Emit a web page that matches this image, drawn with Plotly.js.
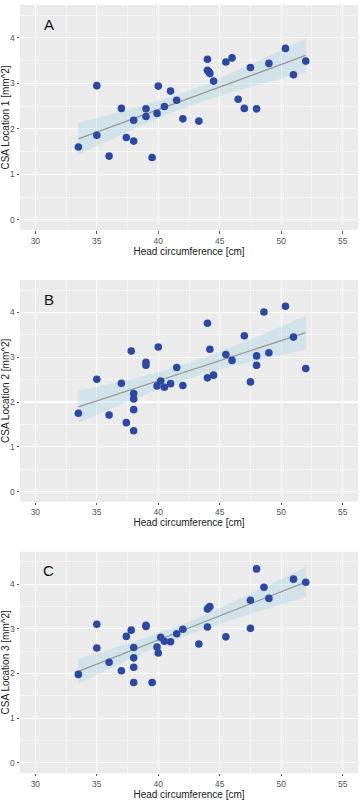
<!DOCTYPE html>
<html>
<head>
<meta charset="utf-8">
<script src="https://cdn.plot.ly/plotly-3.0.1.min.js"></script>
<style>
  html, body { margin: 0; padding: 0; background: #ffffff; }
  #chart { width: 364px; height: 800px; }
</style>
</head>
<body>
<div id="chart"></div>
<script>
// Head circumference [cm] and cross-sectional area at three locations [mm^2]
const headA = [33.5, 35, 35, 36, 37, 37.4, 38, 38, 39, 39, 39.5, 39.9, 40, 40.5, 41, 41.5, 42, 43.3,
               44, 44, 44.1, 44.2, 44.5, 45.5, 46, 46.5, 47, 47.5, 48, 49, 50.35, 51, 52];
const csaA  = [1.60, 2.95, 1.86, 1.40, 2.45, 1.81, 2.19, 1.73, 2.44, 2.27, 1.37, 2.34, 2.94, 2.49, 2.83, 2.63, 2.22, 2.17,
               3.53, 3.29, 3.26, 3.22, 3.05, 3.47, 3.56, 2.65, 2.45, 3.35, 2.44, 3.44, 3.77, 3.19, 3.49];

const headB = [33.5, 35, 36, 37, 37.4, 37.8, 38, 38, 38, 38, 39, 39, 39.9, 40, 40.2, 40.5, 41, 41.5, 42,
               44, 44, 44.2, 44.5, 45.5, 46, 47, 47.5, 48, 48, 48.6, 49, 50.35, 51, 52];
const csaB  = [1.75, 2.51, 1.71, 2.42, 1.54, 3.14, 2.19, 2.07, 1.83, 1.36, 2.89, 2.82, 2.36, 3.23, 2.47, 2.33, 2.41, 2.77, 2.37,
               3.76, 2.54, 3.18, 2.60, 3.06, 2.93, 3.48, 2.45, 3.03, 2.82, 4.01, 3.10, 4.14, 3.45, 2.75];

const headC = [33.5, 35, 35, 36, 37, 37.4, 37.8, 38, 38, 38, 38, 39, 39, 39.5, 39.9, 40, 40.2, 40.5, 41, 41.5, 42, 43.3,
               44, 44, 44.1, 44.2, 45.5, 47.5, 47.5, 48, 48.6, 49, 51, 52];
const csaC  = [1.98, 3.10, 2.57, 2.25, 2.06, 2.83, 2.97, 2.58, 2.35, 2.14, 1.80, 3.08, 3.05, 1.80, 2.59, 2.46, 2.81, 2.72, 2.71, 2.89, 2.99, 2.66,
               3.44, 3.04, 3.47, 3.50, 2.82, 3.64, 3.01, 4.34, 3.93, 3.68, 4.11, 4.04];

const panelLabels = ['A', 'B', 'C'];
const yTitles = ['CSA Location 1 [mm^2]', 'CSA Location 2 [mm^2]', 'CSA Location 3 [mm^2]'];
const xTitle = 'Head circumference [cm]';
const xTicks = [30, 35, 40, 45, 50, 55];
const yTicks = [0, 1, 2, 3, 4];

// Student t quantile (0.975) for ~31-32 degrees of freedom
const T975 = 2.04;

// Ordinary least squares fit with a 95% confidence band for the mean
function lmFit(x, y) {
  const n = x.length;
  const mx = x.reduce((a, b) => a + b, 0) / n;
  const my = y.reduce((a, b) => a + b, 0) / n;
  let sxx = 0, sxy = 0;
  for (let i = 0; i < n; i++) { sxx += (x[i] - mx) ** 2; sxy += (x[i] - mx) * (y[i] - my); }
  const b = sxy / sxx, a = my - b * mx;
  let sse = 0;
  for (let i = 0; i < n; i++) sse += (y[i] - a - b * x[i]) ** 2;
  const s = Math.sqrt(sse / (n - 2));
  const xmin = Math.min(...x), xmax = Math.max(...x);
  const gx = [], fit = [], lo = [], hi = [];
  const steps = 80;
  for (let k = 0; k <= steps; k++) {
    const xv = xmin + (xmax - xmin) * k / steps;
    const yv = a + b * xv;
    const se = s * Math.sqrt(1 / n + (xv - mx) ** 2 / sxx);
    gx.push(xv); fit.push(yv); lo.push(yv - T975 * se); hi.push(yv + T975 * se);
  }
  return { gx, fit, lo, hi };
}

const datasets = [[headA, csaA], [headB, csaB], [headC, csaC]];
// vertical placement of the three panels (paper fractions)
const domains = [[0.7125, 0.9938], [0.3729, 0.6500], [0.0338, 0.3104]];

const traces = [];
const layout = {
  width: 364, height: 800,
  margin: { l: 20, r: 6, t: 0, b: 0 },
  paper_bgcolor: '#ffffff',
  plot_bgcolor: '#EBEBEB',
  showlegend: false,
  font: { family: 'Liberation Sans, Arial, sans-serif', color: '#222' },
  annotations: []
};

datasets.forEach(([hx, cy], i) => {
  const sfx = i === 0 ? '' : String(i + 1);
  const xa = 'x' + sfx, ya = 'y' + sfx;
  const f = lmFit(hx, cy);

  traces.push({
    type: 'scatter', mode: 'lines', xaxis: xa, yaxis: ya,
    x: f.gx.concat(f.gx.slice().reverse()),
    y: f.hi.concat(f.lo.slice().reverse()),
    fill: 'toself', fillcolor: 'rgba(173,216,230,0.42)',
    line: { width: 0 }, hoverinfo: 'skip'
  });
  traces.push({
    type: 'scatter', mode: 'lines', xaxis: xa, yaxis: ya,
    x: f.gx, y: f.fit,
    line: { color: '#9a9a9a', width: 1.3 }
  });
  traces.push({
    type: 'scatter', mode: 'markers', xaxis: xa, yaxis: ya,
    x: hx, y: cy,
    marker: { color: '#2D48A0', size: 7.6, line: { width: 0 } }
  });

  const common = {
    showgrid: true, gridcolor: '#ffffff', gridwidth: 1.1,
    zeroline: false, showline: false,
    ticks: 'outside', ticklen: 2.5, tickwidth: 1, tickcolor: '#555',
    tickfont: { size: 8.5, color: '#555' },
    minor: { showgrid: true, gridcolor: '#ffffff', gridwidth: 0.5 }
  };

  layout['xaxis' + sfx] = Object.assign({}, common, {
    anchor: ya, domain: [0, 1],
    range: [28.75, 56.25], tickvals: xTicks,
    minor: Object.assign({}, common.minor, { dtick: 2.5, tick0: 0 }),
    title: { text: xTitle, font: { size: 10, color: '#222' }, standoff: 1 }
  });
  layout['yaxis' + sfx] = Object.assign({}, common, {
    anchor: xa, domain: domains[i],
    range: [-0.225, 4.725], tickvals: yTicks,
    minor: Object.assign({}, common.minor, { dtick: 0.5, tick0: 0 }),
    title: { text: yTitles[i], font: { size: 10, color: '#222' }, standoff: 3 }
  });

  layout.annotations.push({
    xref: xa, yref: ya, x: 31.1, y: 4.3,
    text: panelLabels[i], showarrow: false,
    font: { size: 15, color: '#111' }
  });
});

Plotly.newPlot('chart', traces, layout, { displayModeBar: false, staticPlot: true });
</script>
</body>
</html>
